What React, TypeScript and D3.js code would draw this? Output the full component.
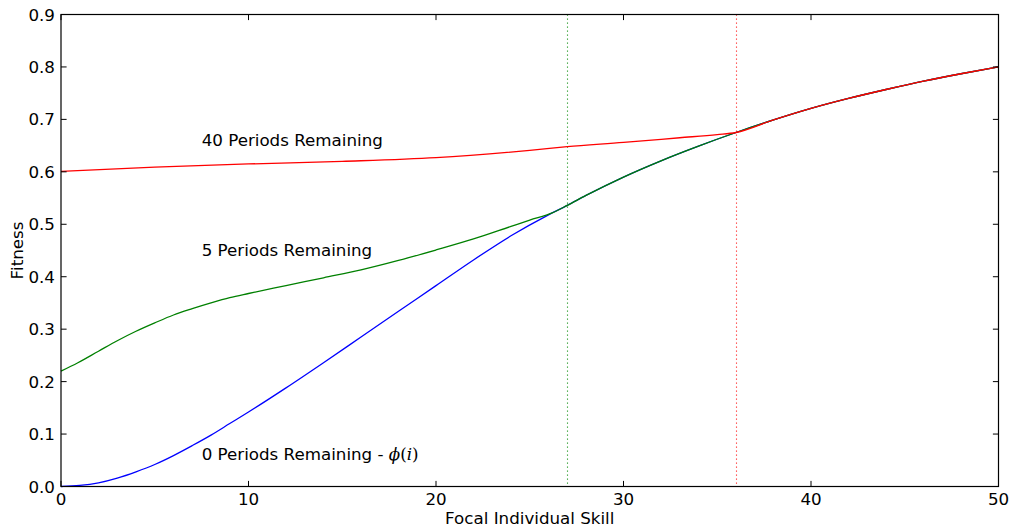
import React from "react";
import * as d3 from "d3";

const phiX = [0, 1, 2, 3, 4, 5, 6, 7, 8, 9, 10, 12, 14, 16, 18, 20, 22, 24, 26, 27, 28, 30, 32, 34, 36, 38, 40, 42, 44, 46, 48, 50];
const phiY = [0, 0.002, 0.007, 0.016, 0.028, 0.042, 0.059, 0.078, 0.098, 0.12, 0.142, 0.188, 0.236, 0.285, 0.334, 0.383, 0.432, 0.478, 0.518, 0.536, 0.555, 0.59, 0.621, 0.649, 0.675, 0.699, 0.721, 0.74, 0.757, 0.773, 0.787, 0.8];

const fiveX = [0, 0.9, 2, 3, 4, 5, 6, 7, 8, 9, 10, 12, 14, 16, 18, 20, 22, 24, 25];
const fiveY = [0.22, 0.236, 0.258, 0.278, 0.296, 0.312, 0.327, 0.339, 0.35, 0.36, 0.368, 0.383, 0.398, 0.413, 0.431, 0.451, 0.472, 0.496, 0.508];
const fiveMerge = 26.2;

const fortyX = [0, 5, 10, 15, 20, 25, 27, 30, 33, 35];
const fortyY = [0.601, 0.609, 0.615, 0.62, 0.627, 0.641, 0.648, 0.656, 0.665, 0.671];
const fortyMerge = 36;

const thresholds = [27, 36];
const xTicks = [0, 10, 20, 30, 40, 50];
const yTicks = [0, 0.1, 0.2, 0.3, 0.4, 0.5, 0.6, 0.7, 0.8, 0.9];

const W = 1011, H = 529;
const L = 61, R = 998.5, T = 14.5, B = 486.5;
const FS = 16.7;

export default function App() {
  const x = d3.scaleLinear().domain([0, 50]).range([L, R]);
  const y = d3.scaleLinear().domain([0, 0.9]).range([B, T]);
  const line = d3.line<[number, number]>().x(d => x(d[0])).y(d => y(d[1])).curve(d3.curveMonotoneX);

  const phi: [number, number][] = phiX.map((v, i) => [v, phiY[i]]);
  const phiInterp = (v: number) => {
    const idx = d3.bisectLeft(phiX, v);
    if (phiX[idx] === v) return phiY[idx];
    const x0 = phiX[idx - 1], x1 = phiX[idx];
    return phiY[idx - 1] + (phiY[idx] - phiY[idx - 1]) * (v - x0) / (x1 - x0);
  };
  const five: [number, number][] = [
    ...fiveX.map((v, i) => [v, fiveY[i]] as [number, number]),
    [fiveMerge, phiInterp(fiveMerge)],
    ...phi.filter(d => d[0] > fiveMerge),
  ];
  const forty: [number, number][] = [
    ...fortyX.map((v, i) => [v, fortyY[i]] as [number, number]),
    [fortyMerge, phiInterp(fortyMerge)],
    ...phi.filter(d => d[0] > fortyMerge),
  ];

  const crisp = (v: number) => Math.floor(v) + 0.5;
  const font = "'DejaVu Sans', sans-serif";
  const serif = "'DejaVu Serif', serif";
  return (
    <svg width={W} height={H} style={{ position: "absolute", left: 0, top: 0, background: "#fff" }} fontFamily={font}>
      <rect x={0} y={0} width={W} height={H} fill="#fff" />
      <line x1={crisp(x(thresholds[0]))} x2={crisp(x(thresholds[0]))} y1={T} y2={B} stroke="#2a9a2a" strokeWidth={1.1} strokeDasharray="1.2,2.8" />
      <line x1={crisp(x(thresholds[1]))} x2={crisp(x(thresholds[1]))} y1={T} y2={B} stroke="#ff3030" strokeWidth={1.1} strokeDasharray="1.2,2.8" />
      <path d={line(phi) || ""} fill="none" stroke="#0000ff" strokeWidth={1.3} />
      <path d={line(five) || ""} fill="none" stroke="#008000" strokeWidth={1.3} />
      <path d={line(forty) || ""} fill="none" stroke="#ff0000" strokeWidth={1.3} />
      <rect x={L} y={T} width={R - L} height={B - T} fill="none" stroke="#000" strokeWidth={1.2} />
      {xTicks.map(t => (
        <g key={"x" + t}>
          <line x1={x(t)} x2={x(t)} y1={B} y2={B - 5.6} stroke="#000" />
          <line x1={x(t)} x2={x(t)} y1={T} y2={T + 5.6} stroke="#000" />
          <text x={x(t)} y={505} textAnchor="middle" fontSize={FS} fill="#000">{t}</text>
        </g>
      ))}
      {yTicks.map(t => (
        <g key={"y" + t}>
          <line x1={L} x2={L + 5.6} y1={y(t)} y2={y(t)} stroke="#000" />
          <line x1={R} x2={R - 5.6} y1={y(t)} y2={y(t)} stroke="#000" />
          <text x={55} y={y(t) + 6} textAnchor="end" fontSize={FS} fill="#000">{t.toFixed(1)}</text>
        </g>
      ))}
      <text x={(L + R) / 2} y={524} textAnchor="middle" fontSize={FS} fill="#000">Focal Individual Skill</text>
      <text transform={`translate(23,${(T + B) / 2}) rotate(-90)`} textAnchor="middle" fontSize={FS} fill="#000">Fitness</text>
      <text x={x(7.5)} y={y(0.65)} fontSize={FS} fill="#000">40 Periods Remaining</text>
      <text x={x(7.5)} y={y(0.44)} fontSize={FS} fill="#000">5 Periods Remaining</text>
      <text x={x(7.5)} y={y(0.05)} fontSize={FS} fill="#000">
        0 Periods Remaining - <tspan fontFamily={serif} fontStyle="italic">ϕ</tspan>
        <tspan fontFamily={serif}>(</tspan>
        <tspan fontFamily={serif} fontStyle="italic">i</tspan>
        <tspan fontFamily={serif}>)</tspan>
      </text>
    </svg>
  );
}
